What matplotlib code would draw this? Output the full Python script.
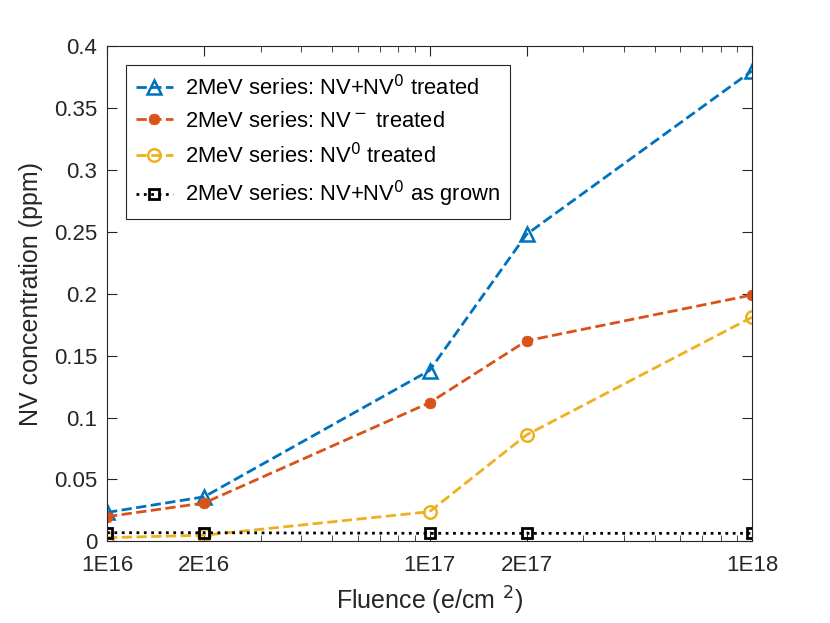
import numpy as np
import matplotlib.pyplot as plt
from matplotlib.ticker import FixedLocator, FixedFormatter, LogLocator, NullFormatter

plt.rcParams['font.family'] = ['Liberation Sans', 'DejaVu Sans']

fluence = [1e16, 2e16, 1e17, 2e17, 1e18]
tick_labels = ["1E16", "2E16", "1E17", "2E17", "1E18"]

nv_total = [0.0234, 0.036, 0.138, 0.248, 0.380]
nv_minus = [0.020, 0.031, 0.112, 0.162, 0.199]
nv_zero = [0.003, 0.005, 0.024, 0.086, 0.181]
nv_grown = [0.007, 0.007, 0.0065, 0.0065, 0.0065]

blue = "#0072BD"
orange = "#D95319"
yellow = "#EDB120"
dark = "#262626"

fig = plt.figure(figsize=(8.3, 6.23), dpi=100)
ax = fig.add_axes([0.129, 0.131, 0.777, 0.795])

ax.plot(fluence, nv_total, "--", color=blue, lw=2, marker="^", ms=10,
        mfc="none", mew=1.8, label="2MeV series: NV+NV$^0$ treated")
ax.plot(fluence, nv_minus, "--", color=orange, lw=2, marker=(8, 2, 0), ms=8,
        mew=2.5, label="2MeV series: NV$^-$ treated")
ax.plot(fluence, nv_zero, "--", color=yellow, lw=2, marker="o", ms=9,
        mfc="none", mew=1.8, label="2MeV series: NV$^0$ treated")
ax.plot(fluence, nv_grown, ":", color="black", lw=2, marker="s", ms=7,
        mfc="none", mew=2, label="2MeV series: NV+NV$^0$ as grown")

ax.set_xscale("log")
ax.set_xlim(1e16, 1e18)
ax.set_ylim(0, 0.4)
ax.xaxis.set_major_locator(FixedLocator(fluence))
ax.xaxis.set_major_formatter(FixedFormatter(tick_labels))
ax.xaxis.set_minor_locator(LogLocator(base=10, subs=np.arange(2, 10)))
ax.xaxis.set_minor_formatter(NullFormatter())
ax.set_yticks(np.arange(0, 0.41, 0.05))
ax.set_yticklabels(["0", "0.05", "0.1", "0.15", "0.2", "0.25", "0.3", "0.35", "0.4"])

ax.tick_params(which="both", direction="in", top=True, right=True,
               labelsize=16, colors=dark)
ax.tick_params(which="major", length=7)
ax.tick_params(which="minor", length=4)
ax.tick_params(axis="x", which="major", pad=10)
ax.tick_params(axis="y", which="major", pad=7)
for s in ax.spines.values():
    s.set_color(dark)
    s.set_linewidth(0.8)

ax.set_xlabel("Fluence (e/cm$\\ ^2$)", fontsize=18, color=dark, labelpad=6)
ax.set_ylabel("NV concentration (ppm)", fontsize=18, color=dark, labelpad=8)

leg = ax.legend(loc="upper left", fontsize=15.8, fancybox=False,
                edgecolor=dark, framealpha=1, handlelength=1.7,
                handletextpad=0.55, borderaxespad=0.85, labelspacing=0.5,
                borderpad=0.45)
leg.get_frame().set_linewidth(0.8)

fig.savefig("out.png", dpi=100)
